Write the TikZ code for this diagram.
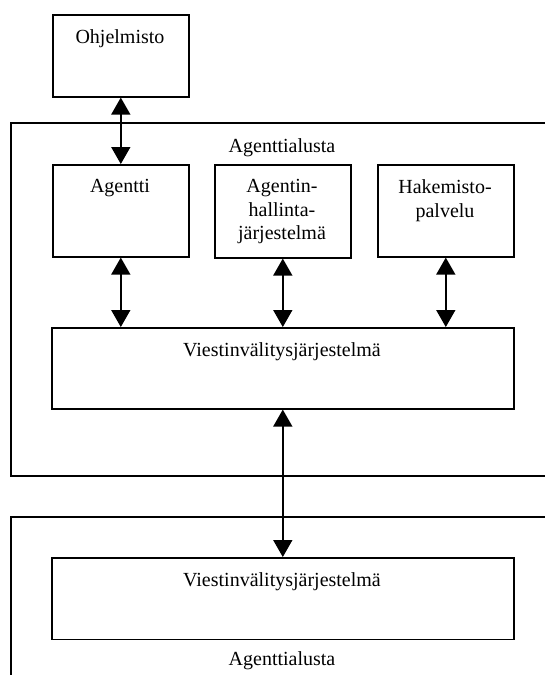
\documentclass[tikz,border=0pt]{standalone}
\usepackage{fontspec}
\setmainfont{Liberation Serif}
\usetikzlibrary{arrows.meta}
\begin{document}
\begin{tikzpicture}[x=1pt,y=-1pt,
  box/.style={draw,line width=1.6pt,rectangle,inner sep=0pt,anchor=north west},
  frame/.style={line width=1.6pt},
  lbl/.style={anchor=base,inner sep=0pt,font=\fontsize{20}{23.5}\selectfont,align=center},
  biarrow/.style={line width=1.6pt,{Triangle[width=19pt,length=17pt]}-{Triangle[width=19pt,length=17pt]}}]
\useasboundingbox (0,0) rectangle (545,675);
\begin{scope}
\clip (0,0) rectangle (545,675);
% platform frames, open to the right
\draw[frame] (560,122.7) -| (11,476) -- (560,476);
\draw[frame] (560,516.7) -| (11,690);
\end{scope}
% boxes
\node[box,minimum width=136pt,minimum height=82pt] (ohj) at (52,14) {};
\node[box,minimum width=136pt,minimum height=92pt] (agentti) at (52,164) {};
\node[box,minimum width=136pt,minimum height=93pt] (ams) at (214,164) {};
\node[box,minimum width=136pt,minimum height=92pt] (df) at (377,164) {};
\node[box,minimum width=462pt,minimum height=81pt] (mts1) at (51,327) {};
\node[box,minimum width=462pt,minimum height=81.5pt] (mts2) at (51,557) {};
% texts
\node[lbl] (tohj) at (120,43) {Ohjelmisto};
\node[lbl] (tap1) at (282,152.7) {Agenttialusta};
\node[lbl] (tagentti) at (120,192) {Agentti};
\node[lbl,anchor=north] (tams) at (282,179.5) {Agentin-\\hallinta-\\järjestelmä};
\node[lbl,anchor=north] (tdf) at (445,179.5) {Hakemisto-\\palvelu};
\node[lbl] (tmts1) at (282,356) {Viestinvälitysjärjestelmä};
\node[lbl] (tmts2) at (282,586.7) {Viestinvälitysjärjestelmä};
\node[lbl] (tap2) at (282,665) {Agenttialusta};
% connectors
\draw[biarrow] (ohj.south) -- (agentti.north);
\draw[biarrow] (agentti.south) -- (agentti.south |- mts1.north);
\draw[biarrow] (ams.south) -- (ams.south |- mts1.north);
\draw[biarrow] (df.south) -- (df.south |- mts1.north);
\draw[biarrow] (mts1.south) -- (mts2.north);
\end{tikzpicture}
\end{document}
